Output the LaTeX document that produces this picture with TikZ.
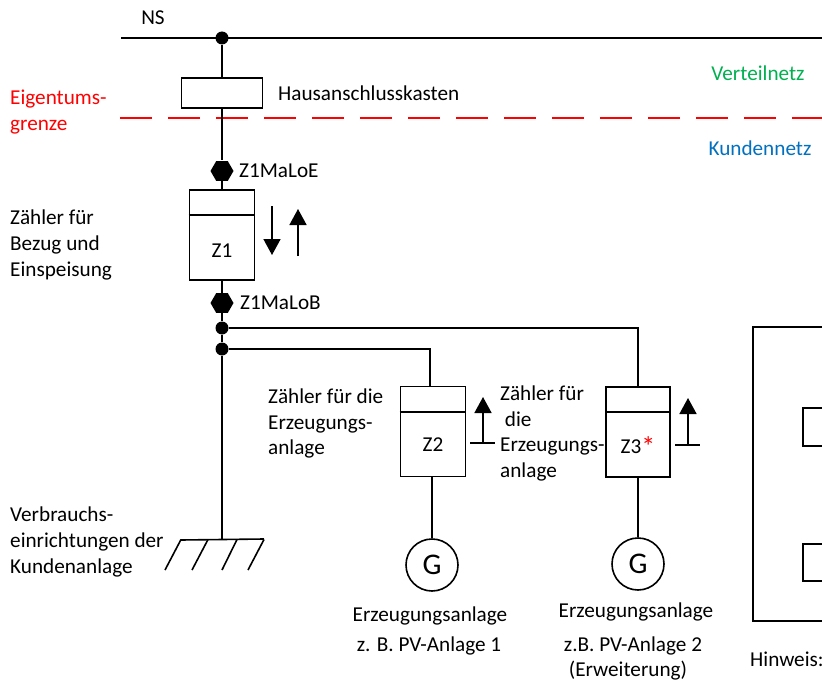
\documentclass[tikz,border=0pt]{standalone}
\usepackage{fontspec}
\setmainfont{Carlito}
\usetikzlibrary{arrows.meta,shapes.geometric}
\tikzset{
wire/.style={black, line width=1.6pt},
zbox/.style={draw, line width=1.6pt, minimum width=65pt, minimum height=90pt, inner sep=0pt},
junc/.style={circle, fill, inner sep=0pt, minimum size=13pt},
malo/.style={regular polygon, regular polygon sides=6, fill=black, inner sep=0pt, minimum size=23pt},
gen/.style={circle, draw, line width=1.6pt, minimum size=52pt, inner sep=0pt, font=\fontsize{30}{32}\selectfont},
txt/.style={align=left, anchor=north west, inner sep=0pt},
ctr/.style={align=center, inner sep=0pt},
up/.style={line width=1.6pt, -{Triangle[length=16pt,width=17pt]}},
}
\begin{document}
\begin{tikzpicture}[x=1pt,y=-1pt,every node/.style={font=\fontsize{21.2}{25.6}\selectfont}]
\useasboundingbox (0,0) rectangle (822,682);
% busbar
\coordinate (busl) at (121,38);
\coordinate (busr) at (822,38);
\draw[wire] (busl) -- (busr);
\node[junc] (jns) at (222,38) {};
\node[ctr] (ns) at (153,18) {NS};
% connection box
\node[draw, line width=1.6pt, minimum width=81pt, minimum height=30pt, inner sep=0pt] (hak) at (222,93) {};
\node[txt, anchor=west] (haktxt) at (278,93) {Hausanschlusskasten};
\draw[wire] (jns) -- (hak);
% ownership boundary
\coordinate (gl) at (120,118);
\coordinate (gr) at (822,118);
\draw[red, line width=1.6pt, dash pattern=on 31.5pt off 16.5pt] (gl) -- (gr);
\node[txt, red] (eig) at (10,90) {Eigentums-\\grenze};
\node[ctr, color={rgb,255:red,0;green,176;blue,80}] (vert) at (758,73) {Verteilnetz};
\node[ctr, color={rgb,255:red,0;green,112;blue,192}] (kund) at (760,148) {Kundennetz};
\draw[wire] (hak) -- (222,160);
% meter Z1
\node[malo] (moe) at (222,171) {};
\node[txt, anchor=west] (moetxt) at (239,171) {Z1MaLoE};
\node[zbox] (z1) at (222,235) {};
\draw[wire] (z1.north west) ++(0,26) coordinate (z1a) -- (z1a -| z1.east);
\node[ctr] (z1txt) at (222,251) {Z1};
\draw[wire] (moe) -- (z1);
\node[txt] (z1lab) at (10,210) {Zähler für\\Bezug und\\Einspeisung};
\coordinate (ad1) at (272,206);
\coordinate (ad2) at (272,255);
\coordinate (au1) at (298,256);
\coordinate (au2) at (298,209);
\draw[up] (ad1) -- (ad2);
\draw[up] (au1) -- (au2);
\node[malo] (mob) at (222,303) {};
\node[txt, anchor=west] (mobtxt) at (240,303) {Z1MaLoB};
\draw[wire] (z1) -- (mob);
\node[junc] (j1) at (222,328) {};
\node[junc] (j2) at (222,349) {};
\draw[wire] (mob) -- (j1) -- (j2);
% consumers
\coordinate (lt) at (222,539);
\coordinate (ltl) at (181,540);
\coordinate (ltr) at (264,539);
\draw[wire] (j2) -- (lt);
\draw[wire] (ltl) -- (ltr);
\foreach \xa/\xb in {181/165,208/192,237/222,264/248} \draw[wire] (\xa,539.5) -- (\xb,570);
\node[txt] (verb) at (10,507) {Verbrauchs-\\einrichtungen der\\Kundenanlage};
% meter Z2
\node[zbox] (z2) at (433,431.5) {};
\draw[wire] (z2.north west) ++(0,26) coordinate (z2a) -- (z2a -| z2.east);
\node[ctr] (z2txt) at (433,445) {Z2};
\coordinate (z2in) at (430,386.5);
\draw[wire] (j2) -| (z2in);
\node[txt] (z2lab) at (268,388.5) {Zähler für die\\Erzeugungs-\\anlage};
\coordinate (bu2l) at (470,443);
\coordinate (bu2r) at (495,443);
\coordinate (bu2m) at (483,443);
\coordinate (at2) at (483,397);
\draw[wire] (bu2l) -- (bu2r);
\draw[up] (bu2m) -- (at2);
\node[gen] (g2) at (432,565) {G};
\draw[wire] (z2.south -| g2) -- (g2);
\node[ctr] (g2a) at (430,616) {Erzeugungsanlage};
\node[ctr] (g2b) at (429,646) {z. B. PV-Anlage 1};
% meter Z3
\node[zbox, minimum width=64pt] (z3) at (638,432) {};
\draw[wire] (z3.north west) ++(0,26) coordinate (z3a) -- (z3a -| z3.east);
\node[ctr] (z3txt) at (638,447) {Z3\textcolor{red}{\raisebox{-3pt}{\fontsize{28}{28}\selectfont *}}};
\draw[wire] (j1) -| (z3);
\node[txt] (z3lab) at (500,385.5) {Zähler für\\\ die\\Erzeugungs-\\anlage};
\coordinate (bu3l) at (675,445);
\coordinate (bu3r) at (700,445);
\coordinate (bu3m) at (688,445);
\coordinate (at3) at (688,398);
\draw[wire] (bu3l) -- (bu3r);
\draw[up] (bu3m) -- (at3);
\node[gen] (g3) at (638,564) {G};
\draw[wire] (z3) -- (g3);
\node[ctr] (g3a) at (636,612) {Erzeugungsanlage};
\node[ctr] (g3b) at (633,646) {z.B. PV-Anlage 2};
\node[ctr] (g3c) at (628,671) {(Erweiterung)};
% right side, cut off
\draw[wire] (822,327) -- (753,327) -- (753,621) -- (822,621);
\draw[wire] (822,408) -- (803,408) -- (803,446) -- (822,446);
\draw[wire] (822,544) -- (803,544) -- (803,581) -- (822,581);
\node[txt] (hinw) at (750,652) {Hinweis:};
\end{tikzpicture}
\end{document}
